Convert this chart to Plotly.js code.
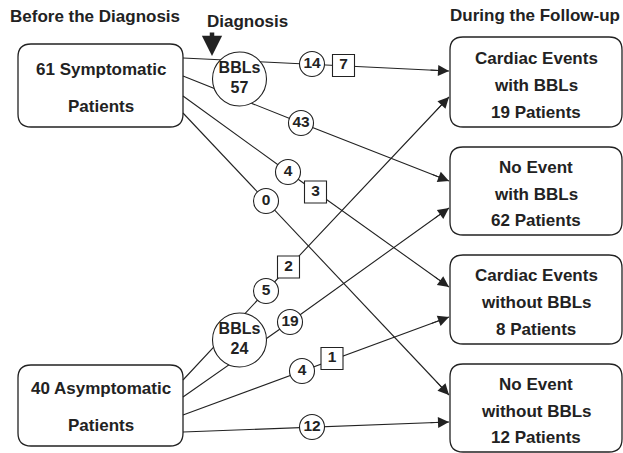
<!DOCTYPE html>
<html><head><meta charset="utf-8">
<script src="https://cdn.plot.ly/plotly-3.0.1.min.js"></script>
<style>html,body{margin:0;padding:0;background:#fff}</style>
</head><body><div id="chart" style="width:623px;height:453px"></div>
<script>
// ---- data ----
const stageTitles = ['Before the Diagnosis', 'Diagnosis', 'During the Follow-up'];
const groupLabels = [['61 Symptomatic', 'Patients'], ['40 Asymptomatic', 'Patients']];
const bblCounts = [57, 24];
const outcomeLabels = [['Cardiac Events', 'with BBLs'], ['No Event', 'with BBLs'], ['Cardiac Events', 'without BBLs'], ['No Event', 'without BBLs']];
const outcomeCounts = [19, 62, 8, 12];
const symptomaticFlows = [14, 43, 4, 0];
const symptomaticEvents = [7, null, 3, null];
const asymptomaticFlows = [5, 19, 4, 12];
const asymptomaticEvents = [2, null, 1, null];

// ---- geometry (pixel layout) ----
const geo = {
  groupBox: [{x0:18,x1:183,y0:44,y1:127,ty:[69,106]}, {x0:18,x1:183,y0:365,y1:446,ty:[388,425]}],
  bblCircle: [[239.5,79],[239.5,340]],
  outBox: [{y0:37,y1:127},{y0:147,y1:235},{y0:255,y1:344},{y0:364,y1:452}],
  outX: [450, 622],
  paths: [
    {start:[183,58], circ:[312,64], sq:[343.5,65.5], end:[449,71]},
    {start:[183,76], circ:[301,123], sq:null, end:[449,181]},
    {start:[183,96], circ:[288,172], sq:[315.5,192], end:[449,287]},
    {start:[183,113], circ:[266,201], sq:null, end:[449,395]},
    {start:[183,380], circ:[266,291], sq:[288.5,267], end:[449,97]},
    {start:[183,397], circ:[290,322], sq:null, end:[449,208]},
    {start:[183,415], circ:[302,371], sq:[332,358.5], end:[449,317]},
    {start:[183,432], circ:[312,427], sq:null, end:[449,422]}
  ]
};

const INK = '#222';
const FONT = 'Liberation Sans, Arial, sans-serif';
const flows = symptomaticFlows.concat(asymptomaticFlows);
const events = symptomaticEvents.concat(asymptomaticEvents);

const traces = [];
const annotations = [];
const shapes = [];

geo.paths.forEach((p, i) => {
  traces.push({x:[p.start[0], p.circ[0], p.end[0]], y:[p.start[1], p.circ[1], p.end[1]],
    mode:'lines', line:{color:INK, width:1.1}, hoverinfo:'skip', showlegend:false});
  const dx = p.end[0]-p.circ[0], dy = p.end[1]-p.circ[1];
  const L = Math.hypot(dx, dy);
  annotations.push({x:p.end[0], y:p.end[1], ax:p.end[0]-dx/L*20, ay:p.end[1]-dy/L*20,
    xref:'x', yref:'y', axref:'x', ayref:'y', text:'', showarrow:true,
    arrowhead:2, arrowsize:2.2, arrowwidth:1, arrowcolor:INK, standoff:0, startstandoff:0});
});

traces.push({x:geo.paths.map(p=>p.circ[0]), y:geo.paths.map(p=>p.circ[1]),
  text:flows.map(v=>'<b>'+v+'</b>'), mode:'markers+text', textposition:'middle center',
  textfont:{family:FONT, size:15.5, color:INK},
  marker:{symbol:'circle', size:25, color:'#fff', line:{color:INK, width:1.1}},
  hoverinfo:'skip', showlegend:false});
const sqIdx = geo.paths.map((p,i)=>i).filter(i=>events[i]!==null);
traces.push({x:sqIdx.map(i=>geo.paths[i].sq[0]), y:sqIdx.map(i=>geo.paths[i].sq[1]),
  text:sqIdx.map(i=>'<b>'+events[i]+'</b>'), mode:'markers+text', textposition:'middle center',
  textfont:{family:FONT, size:15.5, color:INK},
  marker:{symbol:'square', size:22, color:'#fff', line:{color:INK, width:1.1}},
  hoverinfo:'skip', showlegend:false});
traces.push({x:geo.bblCircle.map(c=>c[0]), y:geo.bblCircle.map(c=>c[1]),
  text:bblCounts.map(v=>'<b>BBLs<br>'+v+'</b>'), mode:'markers+text', textposition:'middle center',
  textfont:{family:FONT, size:16, color:INK},
  marker:{symbol:'circle', size:54, color:'#fff', line:{color:INK, width:1.1}},
  hoverinfo:'skip', showlegend:false});

function roundRect(x0,y0,x1,y1,r){
  return `M${x0+r},${y0} L${x1-r},${y0} Q${x1},${y0} ${x1},${y0+r} L${x1},${y1-r} Q${x1},${y1} ${x1-r},${y1} L${x0+r},${y1} Q${x0},${y1} ${x0},${y1-r} L${x0},${y0+r} Q${x0},${y0} ${x0+r},${y0} Z`;
}
function label(x,y,t,size){
  annotations.push({x:x, y:y, xref:'x', yref:'y', text:'<b>'+t+'</b>', showarrow:false,
    font:{family:FONT, size:size||17, color:INK}, xanchor:'center', yanchor:'middle'});
}

geo.groupBox.forEach((b,i)=>{
  shapes.push({type:'path', path:roundRect(b.x0,b.y0,b.x1,b.y1,13), xref:'x', yref:'y',
    line:{color:INK, width:1.3}, fillcolor:'rgba(0,0,0,0)'});
  label((b.x0+b.x1)/2, b.ty[0], groupLabels[i][0]);
  label((b.x0+b.x1)/2, b.ty[1], groupLabels[i][1]);
});
geo.outBox.forEach((b,i)=>{
  shapes.push({type:'path', path:roundRect(geo.outX[0],b.y0,geo.outX[1],b.y1,13), xref:'x', yref:'y',
    line:{color:INK, width:1.3}, fillcolor:'rgba(0,0,0,0)'});
  const cx = (geo.outX[0]+geo.outX[1])/2, h = b.y1-b.y0;
  label(cx, b.y0+h*0.235, outcomeLabels[i][0]);
  label(cx, b.y0+h*0.535, outcomeLabels[i][1]);
  label(cx, b.y0+h*0.835, outcomeCounts[i]+' Patients');
});

label(95, 16, stageTitles[0]);
label(247, 21, stageTitles[1]);
label(535, 15, stageTitles[2]);
annotations.push({x:212, y:56, ax:212, ay:31, xref:'x', yref:'y', axref:'x', ayref:'y', text:'',
  showarrow:true, arrowhead:2, arrowsize:0.9, arrowwidth:4.5, arrowcolor:INK, standoff:0});

const layout = {
  width:623, height:453, margin:{l:0,r:0,t:0,b:0},
  paper_bgcolor:'#fff', plot_bgcolor:'#fff', showlegend:false,
  xaxis:{range:[0,623], visible:false, fixedrange:true},
  yaxis:{range:[453,0], visible:false, fixedrange:true},
  shapes:shapes, annotations:annotations
};
Plotly.newPlot('chart', traces, layout, {displayModeBar:false, staticPlot:true});
</script></body></html>
